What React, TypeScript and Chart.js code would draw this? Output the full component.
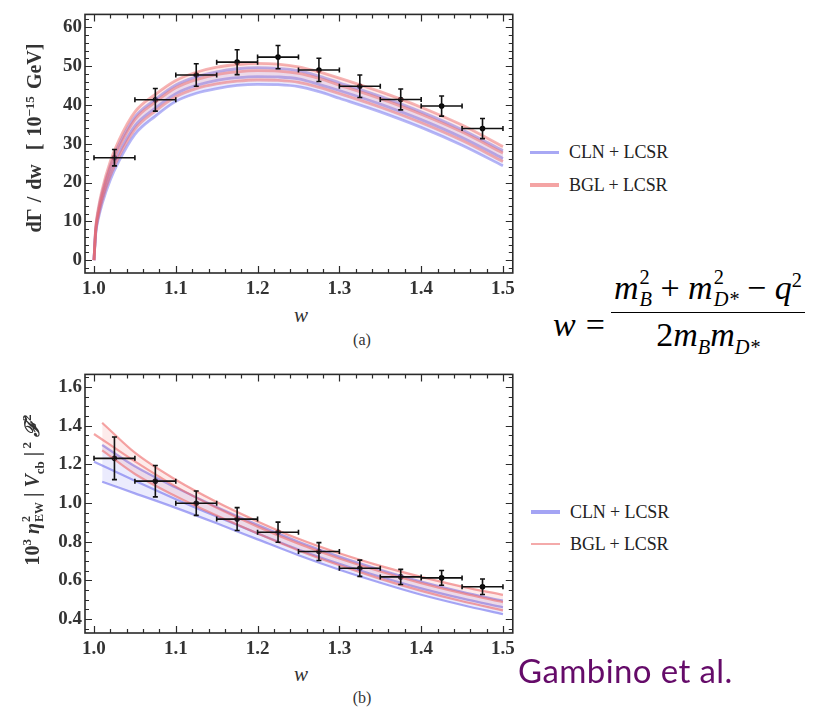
import React, { useEffect, useRef } from "react";
import { Chart, registerables } from "chart.js";

Chart.register(...registerables);

// ---------------- Panel (a): dΓ/dw ----------------
const wCurveA = [1.0, 1.002, 1.005, 1.01, 1.02, 1.03, 1.05, 1.075, 1.1, 1.125, 1.15, 1.175, 1.2, 1.225, 1.25, 1.275, 1.3, 1.35, 1.4, 1.45, 1.5];
const bglUpperA = [0, 8.2, 13.0, 18.2, 25.5, 30.7, 38.2, 42.7, 46.3, 48.4, 49.7, 50.4, 50.7, 50.5, 49.8, 48.5, 46.9, 43.4, 39.4, 34.8, 29.3];
const bglCenterA = [0, 7.6, 12.1, 16.9, 23.8, 28.8, 36.2, 40.7, 44.4, 46.5, 47.8, 48.5, 48.8, 48.7, 48.1, 46.8, 45.1, 41.6, 37.6, 33.0, 27.6];
const bglLowerA = [0, 7.0, 11.0, 15.4, 21.8, 26.5, 33.7, 38.4, 42.1, 44.2, 45.4, 46.1, 46.4, 46.3, 45.8, 44.5, 42.9, 39.4, 35.4, 30.8, 25.4];
const clnUpperA = [0, 7.8, 12.4, 17.4, 24.4, 29.5, 36.9, 41.4, 45.1, 47.2, 48.5, 49.3, 49.6, 49.4, 48.8, 47.4, 45.7, 42.2, 38.2, 33.6, 28.2];
const clnCenterA = [0, 7.2, 11.4, 16.0, 22.5, 27.3, 34.6, 39.2, 42.9, 45.0, 46.3, 47.0, 47.3, 47.2, 46.7, 45.3, 43.7, 40.2, 36.2, 31.6, 26.2];
const clnLowerA = [0, 6.6, 10.4, 14.6, 20.7, 25.3, 32.4, 37.1, 40.9, 43.0, 44.2, 45.0, 45.3, 45.2, 44.7, 43.4, 41.7, 38.2, 34.2, 29.6, 24.3];

const binCenters = [1.025, 1.075, 1.125, 1.175, 1.225, 1.275, 1.325, 1.375, 1.425, 1.475];
const binHalfWidths = [0.025, 0.025, 0.025, 0.025, 0.025, 0.025, 0.025, 0.025, 0.025, 0.025];
const rateA = [26.4, 41.3, 47.7, 51.0, 52.3, 49.0, 44.8, 41.4, 39.7, 33.9];
const rateErrA = [2.1, 2.9, 2.9, 3.2, 3.0, 3.0, 2.9, 2.7, 2.6, 2.6];

// ---------------- Panel (b): 10^3 η² |Vcb|² F² ----------------
const wEdgeB = [1.01, 1.05, 1.1, 1.15, 1.2, 1.25, 1.3, 1.35, 1.4, 1.45, 1.5];
const wCenterB = [1.0, 1.05, 1.1, 1.15, 1.2, 1.25, 1.3, 1.35, 1.4, 1.45, 1.5];
const bglUpperB = [1.415, 1.26, 1.12, 1.005, 0.905, 0.815, 0.74, 0.675, 0.618, 0.568, 0.525];
const bglCenterB = [1.357, 1.215, 1.085, 0.975, 0.878, 0.79, 0.713, 0.646, 0.586, 0.534, 0.488];
const bglLowerB = [1.272, 1.15, 1.035, 0.935, 0.842, 0.755, 0.678, 0.608, 0.546, 0.492, 0.445];
const clnUpperB = [1.30, 1.19, 1.08, 0.98, 0.887, 0.80, 0.723, 0.655, 0.594, 0.541, 0.495];
const clnCenterB = [1.214, 1.115, 1.02, 0.93, 0.843, 0.76, 0.686, 0.619, 0.559, 0.507, 0.461];
const clnLowerB = [1.11, 1.05, 0.975, 0.895, 0.812, 0.73, 0.655, 0.588, 0.526, 0.473, 0.425];

const ffB = [1.231, 1.113, 0.999, 0.917, 0.849, 0.749, 0.663, 0.618, 0.613, 0.567];
const ffErrB = [0.11, 0.081, 0.063, 0.059, 0.052, 0.046, 0.042, 0.039, 0.038, 0.04];

// ---------------- Axes ----------------
const xTicks = [1.0, 1.1, 1.2, 1.3, 1.4, 1.5];
const yTicksA = [0, 10, 20, 30, 40, 50, 60];
const yTicksB = [0.4, 0.6, 0.8, 1.0, 1.2, 1.4, 1.6];

const SERIF = "'Liberation Serif', 'DejaVu Serif', 'Times New Roman', serif";

const frameTicksPlugin = {
  id: "frameTicks",
  afterDatasetsDraw(chart: any, _args: any, opts: any) {
    const { ctx, chartArea: a, scales } = chart;
    const xs = scales.x;
    const ys = scales.y;
    const major = 7;
    const minor = 4;
    ctx.save();
    ctx.strokeStyle = "#2a2a2a";
    ctx.lineWidth = 1.2;
    ctx.beginPath();
    const xMaj: number[] = opts.xMajor;
    const yMaj: number[] = opts.yMajor;
    const xMin: number[] = [];
    const yMin: number[] = [];
    const xStep = (xMaj[1] - xMaj[0]) / opts.xSub;
    for (let k = Math.ceil(xs.min / xStep - 1e-6); k * xStep <= xs.max + 1e-9; k++) xMin.push(k * xStep);
    const yStep = (yMaj[1] - yMaj[0]) / opts.ySub;
    for (let k = Math.ceil(ys.min / yStep - 1e-6); k * yStep <= ys.max + 1e-9; k++) yMin.push(k * yStep);
    const isMajor = (arr: number[], v: number, step: number) => arr.some((m) => Math.abs(m - v) < step * 0.01);
    xMin.forEach((v) => {
      const len = isMajor(xMaj, v, xStep) ? major : minor;
      const px = Math.round(xs.getPixelForValue(v)) + 0.5;
      if (px < a.left || px > a.right) return;
      ctx.moveTo(px, a.bottom);
      ctx.lineTo(px, a.bottom - len);
      ctx.moveTo(px, a.top);
      ctx.lineTo(px, a.top + len);
    });
    yMin.forEach((v) => {
      const len = isMajor(yMaj, v, yStep) ? major : minor;
      const py = Math.round(ys.getPixelForValue(v)) + 0.5;
      if (py < a.top || py > a.bottom) return;
      ctx.moveTo(a.left, py);
      ctx.lineTo(a.left + len, py);
      ctx.moveTo(a.right, py);
      ctx.lineTo(a.right - len, py);
    });
    ctx.stroke();
    ctx.lineWidth = 1.6;
    ctx.strokeRect(a.left, a.top, a.right - a.left, a.bottom - a.top);
    ctx.restore();
  },
};

const errorBarsPlugin = {
  id: "errorBars",
  afterDatasetsDraw(chart: any, _args: any, opts: any) {
    const { ctx } = chart;
    const xs = chart.scales.x;
    const ys = chart.scales.y;
    const cap = 2.5;
    ctx.save();
    ctx.strokeStyle = "#111";
    ctx.lineWidth = 1.6;
    ctx.beginPath();
    opts.x.forEach((xv: number, i: number) => {
      const yv = opts.y[i];
      const px = xs.getPixelForValue(xv);
      const py = ys.getPixelForValue(yv);
      const xl = xs.getPixelForValue(xv - opts.xerr[i]);
      const xr = xs.getPixelForValue(xv + opts.xerr[i]);
      const yt = ys.getPixelForValue(yv + opts.yerr[i]);
      const yb = ys.getPixelForValue(yv - opts.yerr[i]);
      ctx.moveTo(xl, py);
      ctx.lineTo(xr, py);
      ctx.moveTo(xl, py - cap);
      ctx.lineTo(xl, py + cap);
      ctx.moveTo(xr, py - cap);
      ctx.lineTo(xr, py + cap);
      ctx.moveTo(px, yt);
      ctx.lineTo(px, yb);
      ctx.moveTo(px - cap, yt);
      ctx.lineTo(px + cap, yt);
      ctx.moveTo(px - cap, yb);
      ctx.lineTo(px + cap, yb);
    });
    ctx.stroke();
    ctx.restore();
  },
};

function pts(xs: number[], ys: number[]) {
  return xs.map((x, i) => ({ x, y: ys[i] }));
}

function curve(xs: number[], ys: number[], color: string, width: number, fill: any, fillColor: string) {
  return {
    type: "line",
    data: pts(xs, ys),
    borderColor: color,
    borderWidth: width,
    backgroundColor: fillColor,
    pointRadius: 0,
    fill,
    cubicInterpolationMode: "monotone",
    tension: 0.4,
  };
}

function buildConfig(p: any) {
  const tickFont = { family: SERIF, size: 19, weight: "bold" as const };
  return {
    type: "line",
    data: {
      datasets: [
        curve(p.bglEdgeX, p.bglU, p.red, p.lw, 2, p.redFill),
        curve(p.centerX, p.bglC, p.red, p.lw, false, p.redFill),
        curve(p.bglEdgeX, p.bglL, p.red, p.lw, false, p.redFill),
        curve(p.clnEdgeX, p.clnU, p.blue, p.lw, 5, p.blueFill),
        curve(p.centerX, p.clnC, p.blue, p.lw, false, p.blueFill),
        curve(p.clnEdgeX, p.clnL, p.blue, p.lw, false, p.blueFill),
        {
          type: "line",
          data: pts(binCenters, p.vals),
          showLine: false,
          pointRadius: 2.8,
          pointBackgroundColor: "#000",
          pointBorderWidth: 0,
          borderColor: "#000",
        },
      ],
    },
    options: {
      animation: false,
      responsive: false,
      layout: { padding: { left: 5, right: 7, top: 7, bottom: 0 } },
      plugins: {
        legend: { display: false },
        tooltip: { enabled: false },
        frameTicks: { xMajor: xTicks, yMajor: p.yTicks, xSub: 5, ySub: p.ySub },
        errorBars: { x: binCenters, y: p.vals, xerr: binHalfWidths, yerr: p.errs },
      },
      scales: {
        x: {
          type: "linear",
          min: 0.989,
          max: 1.512,
          afterBuildTicks: (s: any) => {
            s.ticks = xTicks.map((v) => ({ value: v }));
          },
          afterFit: (s: any) => {
            s.height = 27;
          },
          ticks: {
            font: tickFont,
            color: "#333",
            padding: 5,
            maxRotation: 0,
            autoSkip: false,
            callback: (v: number) => v.toFixed(1),
          },
          grid: { display: false, drawTicks: false },
          border: { display: false },
        },
        y: {
          type: "linear",
          min: p.yMin,
          max: p.yMax,
          afterBuildTicks: (s: any) => {
            s.ticks = p.yTicks.map((v: number) => ({ value: v }));
          },
          afterFit: (s: any) => {
            s.width = 80;
          },
          ticks: {
            font: tickFont,
            color: "#333",
            padding: 3,
            autoSkip: false,
            callback: p.fmt,
          },
          grid: { display: false, drawTicks: false },
          border: { display: false },
        },
      },
    },
    plugins: [frameTicksPlugin, errorBarsPlugin],
  };
}

const abs = (left: number, top: number, extra: any = {}) => ({
  position: "absolute" as const,
  left,
  top,
  transform: "translate(-50%, -50%)",
  whiteSpace: "nowrap" as const,
  ...extra,
});

function SubSup({ sup, sub, italicSub = true }: { sup: string; sub: string; italicSub?: boolean }) {
  return (
    <span
      style={{
        display: "inline-flex",
        flexDirection: "column",
        fontSize: "0.6em",
        lineHeight: 1.1,
        verticalAlign: "0.75em",
        marginLeft: 1,
        textAlign: "left",
      }}
    >
      <span style={{ fontStyle: "normal" }}>{sup}</span>
      <span style={{ fontStyle: italicSub ? "italic" : "normal" }}>{sub}</span>
    </span>
  );
}

function LegendItem({ x, y, color, thick, label }: any) {
  return (
    <>
      <div style={{ position: "absolute", left: x, top: y - thick / 2, width: 29, height: thick, background: color }} />
      <div
        style={{
          position: "absolute",
          left: x + 39,
          top: y,
          transform: "translateY(-50%)",
          fontFamily: SERIF,
          fontSize: 18,
          color: "#222",
          whiteSpace: "nowrap",
          letterSpacing: -0.1,
        }}
      >
        {label}
      </div>
    </>
  );
}

export default function App() {
  const refA = useRef<HTMLCanvasElement>(null);
  const refB = useRef<HTMLCanvasElement>(null);

  useEffect(() => {
    const redFill = "rgba(240, 120, 120, 0.15)";
    const blueFill = "rgba(120, 120, 240, 0.15)";
    const cA = new Chart(
      refA.current as HTMLCanvasElement,
      buildConfig({
        bglEdgeX: wCurveA,
        clnEdgeX: wCurveA,
        centerX: wCurveA,
        bglU: bglUpperA,
        bglC: bglCenterA,
        bglL: bglLowerA,
        clnU: clnUpperA,
        clnC: clnCenterA,
        clnL: clnLowerA,
        vals: rateA,
        errs: rateErrA,
        yMin: -3.3,
        yMax: 63.3,
        yTicks: yTicksA,
        ySub: 5,
        fmt: (v: number) => String(v),
        red: "rgba(238, 105, 105, 0.5)",
        blue: "rgba(110, 110, 238, 0.5)",
        redFill,
        blueFill,
        lw: 2.8,
      }) as any
    );
    const cB = new Chart(
      refB.current as HTMLCanvasElement,
      buildConfig({
        bglEdgeX: wEdgeB,
        clnEdgeX: wEdgeB,
        centerX: wCenterB,
        bglU: bglUpperB,
        bglC: bglCenterB,
        bglL: bglLowerB,
        clnU: clnUpperB,
        clnC: clnCenterB,
        clnL: clnLowerB,
        vals: ffB,
        errs: ffErrB,
        yMin: 0.328,
        yMax: 1.665,
        yTicks: yTicksB,
        ySub: 4,
        fmt: (v: number) => v.toFixed(1),
        red: "rgba(238, 105, 105, 0.6)",
        blue: "rgba(110, 110, 238, 0.6)",
        redFill,
        blueFill,
        lw: 2.2,
      }) as any
    );
    return () => {
      cA.destroy();
      cB.destroy();
    };
  }, []);

  return (
    <div style={{ position: "absolute", left: 0, top: 0, width: 820, height: 711, background: "#fff", overflow: "hidden", fontFamily: SERIF }}>
      <canvas ref={refA} width={520} height={300} style={{ position: "absolute", left: 0, top: 0, width: 520, height: 300 }} />
      <canvas ref={refB} width={520} height={300} style={{ position: "absolute", left: 0, top: 360, width: 520, height: 300 }} />

      {/* y titles */}
      <div style={abs(34, 138, { transform: "translate(-50%, -50%) rotate(-90deg)", fontSize: 20, fontWeight: "bold", color: "#333", wordSpacing: 2 })}>
        dΓ / dw&nbsp;&nbsp;[ 10<sup style={{ fontSize: "0.65em" }}>−15</sup> GeV]
      </div>
      <div style={abs(33, 490, { transform: "translate(-50%, -50%) rotate(-90deg)", fontSize: 20, fontWeight: "bold", color: "#333" })}>
        10<sup style={{ fontSize: "0.65em" }}>3</sup> <i>η</i>
        <SubSup sup="2" sub="EW" italicSub={false} /> | <i>V</i>
        <sub style={{ fontSize: "0.65em" }}>cb</sub> |<sup style={{ fontSize: "0.65em" }}> 2</sup> <i>ℱ</i>
        <sup style={{ fontSize: "0.65em" }}>2</sup>
      </div>

      {/* x titles and panel labels */}
      <div style={abs(301, 315, { fontSize: 21, fontStyle: "italic", color: "#333" })}>w</div>
      <div style={abs(362, 340, { fontSize: 16, color: "#333" })}>(a)</div>
      <div style={abs(301, 674, { fontSize: 21, fontStyle: "italic", color: "#333" })}>w</div>
      <div style={abs(362, 698, { fontSize: 16, color: "#333" })}>(b)</div>

      {/* legends */}
      <LegendItem x={530} y={152} color="#a8a8f4" thick={3} label="CLN + LCSR" />
      <LegendItem x={530} y={185} color="#f4a4a4" thick={4} label="BGL + LCSR" />
      <LegendItem x={531} y={512} color="#a4a4f4" thick={4} label="CLN + LCSR" />
      <LegendItem x={531} y={544} color="#f4aaaa" thick={2.5} label="BGL + LCSR" />

      {/* formula */}
      <div
        style={{
          position: "absolute",
          left: 553,
          top: 266,
          fontFamily: "'Liberation Serif', 'Times New Roman', serif",
          fontSize: 34,
          color: "#000",
          display: "flex",
          alignItems: "center",
          whiteSpace: "nowrap",
        }}
      >
        <span style={{ position: "relative", top: 12 }}>
          <i>w</i>
          <span style={{ margin: "0 6px 0 10px" }}>=</span>
        </span>
        <div style={{ display: "inline-flex", flexDirection: "column", alignItems: "center" }}>
          <div style={{ borderBottom: "1.5px solid #000", padding: "0 3px 1px", lineHeight: 1.2 }}>
            <i>m</i>
            <SubSup sup="2" sub="B" /> + <i>m</i>
            <SubSup sup="2" sub="D*" /> − <i>q</i>
            <sup style={{ fontSize: "0.6em" }}>2</sup>
          </div>
          <div style={{ lineHeight: 1.3 }}>
            2<i>m</i>
            <sub style={{ fontSize: "0.6em", fontStyle: "italic" }}>B</sub>
            <i>m</i>
            <sub style={{ fontSize: "0.6em", fontStyle: "italic" }}>D*</sub>
          </div>
        </div>
      </div>

      <div style={{ position: "absolute", left: 518, top: 650, fontFamily: "Lato, 'Open Sans', sans-serif", fontSize: 33, letterSpacing: 0.4, color: "#650b69", whiteSpace: "nowrap" }}>
        Gambino et al.
      </div>
    </div>
  );
}
